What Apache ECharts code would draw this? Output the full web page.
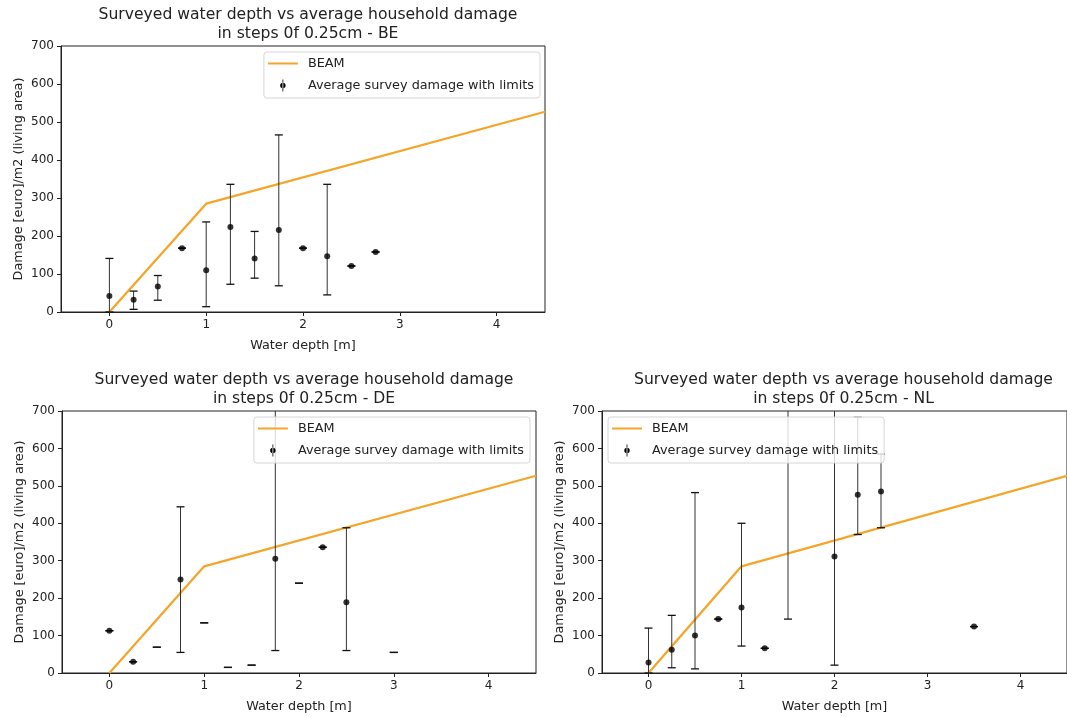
<!DOCTYPE html>
<html>
<head>
<meta charset="utf-8">
<script src="https://cdn.jsdelivr.net/npm/echarts@6/dist/echarts.min.js"></script>
<style>
html,body{margin:0;padding:0;background:#fff;}
#chart{width:1067px;height:717px;}
</style>
</head>
<body>
<div id="chart"></div>
<script>
// ---- data ----
const xTicks = [0, 1, 2, 3, 4];
const beamDepth = [0, 1, 4.5];
const beamDamage = [0, 285, 527];

const depthBE = [0, 0.25, 0.5, 0.75, 1, 1.25, 1.5, 1.75, 2, 2.25, 2.5, 2.75];
const meanBE  = [42, 32, 67, 168, 110, 224, 141, 216, 168, 147, 121, 158];
const lowerBE = [0, 7, 31, 168, 14, 73, 89, 69, 168, 45, 121, 158];
const upperBE = [141, 55, 96, 168, 237, 336, 212, 466, 168, 336, 121, 158];

const depthDE = [0, 0.25, 0.5, 0.75, 1, 1.25, 1.5, 1.75, 2, 2.25, 2.5, 3];
const meanDE  = [113, 30, null, 250, null, null, null, 305, null, 336, 189, null];
const lowerDE = [113, 30, 69, 55, 134, 15, 21, 60, 240, 336, 60, 55];
const upperDE = [113, 30, 69, 444, 134, 15, 21, 800, 240, 336, 388, 55];

const depthNL = [0, 0.25, 0.5, 0.75, 1, 1.25, 1.5, 2, 2.25, 2.5, 3.5];
const meanNL  = [28, 62, 100, 144, 175, 66, null, 311, 476, 485, 124];
const lowerNL = [0, 14, 11, 144, 72, 66, 144, 21, 370, 388, 124];
const upperNL = [120, 154, 482, 144, 400, 66, 800, 800, 683, 585, 124];

const titleLine1 = 'Surveyed water depth vs average household damage';
const countries = ['BE', 'DE', 'NL'];
const xName = 'Water depth [m]';
const yName = 'Damage [euro]/m2 (living area)';
const beamName = 'BEAM';
const surveyName = 'Average survey damage with limits';

// ---- layout ----
const panels = [
  {left: 61, top: 46, width: 484, height: 266, depth: depthBE, mean: meanBE, lo: lowerBE, hi: upperBE,
   legend: {right: 1067 - 540, top: 52}},
  {left: 62, top: 411, width: 474, height: 262, depth: depthDE, mean: meanDE, lo: lowerDE, hi: upperDE,
   legend: {right: 1067 - 530, top: 417}},
  {left: 602, top: 411, width: 473, height: 262, depth: depthNL, mean: meanNL, lo: lowerNL, hi: upperNL,
   legend: {left: 608, top: 417}}
];

const FONT = 'DejaVu Sans';
const INK = '#222';
const ORANGE = '#f4a52a';

function errRender(params, api) {
  const cs = params.coordSys;
  const x = api.value(0), lo = api.value(1), hi = api.value(2);
  const p1 = api.coord([x, lo]);
  const p2 = api.coord([x, hi]);
  const top = cs.y, bot = cs.y + cs.height;
  const yLo = Math.min(Math.max(p1[1], top), bot);
  const yHi = Math.min(Math.max(p2[1], top), bot);
  const half = 4;
  const st = {stroke: '#333', lineWidth: 1};
  const ch = [];
  if (Math.abs(yLo - yHi) > 0.5) {
    ch.push({type: 'line', shape: {x1: p1[0], y1: yLo, x2: p1[0], y2: yHi}, style: st});
  }
  if (p1[1] <= bot + 0.5 && p1[1] >= top) ch.push({type: 'line', shape: {x1: p1[0] - half, y1: p1[1], x2: p1[0] + half, y2: p1[1]}, style: {stroke: '#111', lineWidth: 1.3}});
  if (p2[1] >= top && p2[1] <= bot + 0.5) ch.push({type: 'line', shape: {x1: p2[0] - half, y1: p2[1], x2: p2[0] + half, y2: p2[1]}, style: {stroke: '#111', lineWidth: 1.3}});
  return {type: 'group', children: ch};
}

const grid = [], xAxis = [], yAxis = [], series = [], title = [], legend = [];
panels.forEach((p, i) => {
  grid.push({left: p.left, top: p.top, width: p.width, height: p.height, show: true,
             borderColor: INK, borderWidth: 1, backgroundColor: 'transparent', containLabel: false});
  xAxis.push({type: 'value', gridIndex: i, min: -0.5, max: 4.5,
    name: xName, nameLocation: 'middle', nameGap: 27,
    nameTextStyle: {fontFamily: FONT, fontSize: 12.8, color: INK},
    axisLine: {show: true, onZero: false, lineStyle: {color: INK, width: 1}},
    axisTick: {show: true, inside: false, length: 4, customValues: xTicks, lineStyle: {color: INK}},
    axisLabel: {show: true, margin: 7, customValues: xTicks, fontFamily: FONT, fontSize: 12, color: INK},
    splitLine: {show: false}});
  yAxis.push({type: 'value', gridIndex: i, min: 0, max: 700, interval: 100,
    name: yName, nameLocation: 'middle', nameGap: 36,
    nameTextStyle: {fontFamily: FONT, fontSize: 12.8, color: INK},
    axisLine: {show: true, onZero: false, lineStyle: {color: INK, width: 1}},
    axisTick: {show: true, inside: false, length: 4, lineStyle: {color: INK}},
    axisLabel: {show: true, margin: 7, fontFamily: FONT, fontSize: 12, color: INK},
    splitLine: {show: false}});
  title.push({text: titleLine1 + '\nin steps 0f 0.25cm - ' + countries[i],
    left: p.left + p.width / 2, top: p.top - 45, textAlign: 'center',
    textStyle: {fontFamily: FONT, fontSize: 15.6, fontWeight: 'normal', color: INK, lineHeight: 18.5}});
  series.push({name: beamName, type: 'line', xAxisIndex: i, yAxisIndex: i,
    data: beamDepth.map((d, k) => [d, beamDamage[k]]), showSymbol: false, symbol: 'none',
    lineStyle: {color: ORANGE, width: 2.3}, itemStyle: {color: ORANGE}, clip: true, z: 2, silent: true});
  series.push({name: surveyName, type: 'custom', xAxisIndex: i, yAxisIndex: i,
    data: p.depth.map((d, k) => [d, p.lo[k], p.hi[k]]), renderItem: errRender,
    itemStyle: {color: '#000'}, z: 3, silent: true});
  series.push({name: surveyName, type: 'scatter', xAxisIndex: i, yAxisIndex: i,
    data: p.depth.map((d, k) => [d, p.mean[k]]).filter(v => v[1] !== null),
    symbol: 'circle', symbolSize: 6, itemStyle: {color: '#000'}, z: 4, silent: true, clip: true});
  const lg = Object.assign({
    orient: 'vertical', itemWidth: 30, itemHeight: 12, itemGap: 9, padding: [5, 6, 6, 4],
    backgroundColor: 'rgba(255,255,255,0.8)', borderColor: '#d6d6d6', borderWidth: 1, borderRadius: 3,
    selectedMode: false,
    textStyle: {fontFamily: FONT, fontSize: 12.8, color: INK, padding: [0, 0, 0, 5]},
    data: [
      {name: beamName, icon: 'path://M0,5 L30,5 L30,7 L0,7 Z', itemStyle: {color: ORANGE}},
      {name: surveyName, icon: 'path://M14.6,0 L15.4,0 L15.4,12 L14.6,12 Z M12.3,6 A2.7,2.7 0 1,0 17.7,6 A2.7,2.7 0 1,0 12.3,6 Z', itemStyle: {color: '#000'}}
    ]
  }, p.legend);
  legend.push(lg);
});

const chart = echarts.init(document.getElementById('chart'), null, {renderer: 'canvas'});
chart.setOption({
  animation: false,
  backgroundColor: '#fff',
  title, grid, xAxis, yAxis, series, legend
});
</script>
</body>
</html>
